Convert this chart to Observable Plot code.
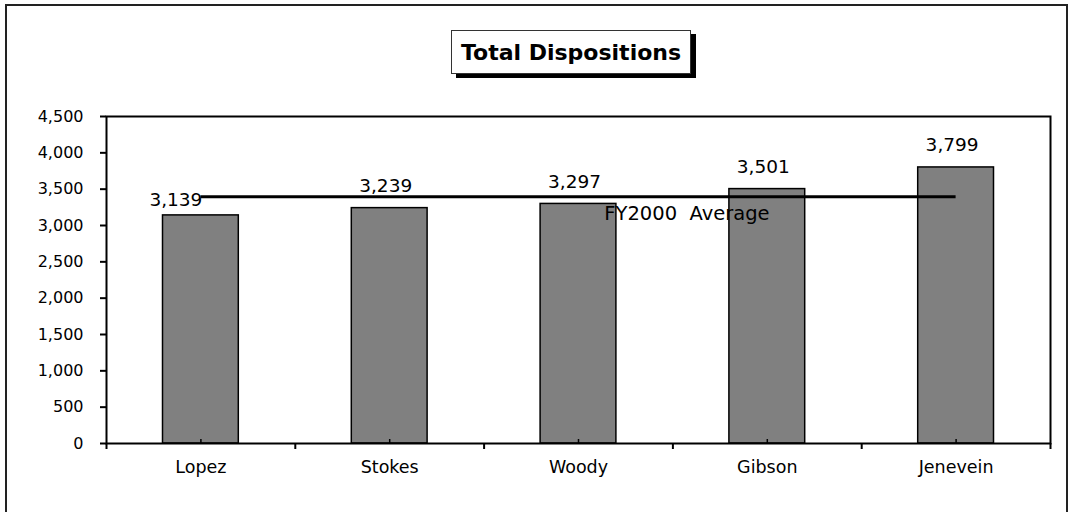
<!DOCTYPE html>
<html>
<head>
<meta charset="utf-8">
<script src="https://cdn.jsdelivr.net/npm/d3@7"></script>
<script src="https://cdn.jsdelivr.net/npm/@observablehq/plot@0.6"></script>
<style>
  body { margin: 0; background: #fff; }
  #wrap { position: relative; width: 1069px; height: 512px; overflow: hidden; background: #fff; }
  #border { position: absolute; left: 5px; top: 4px; width: 1063px; height: 520px; border: 2px solid #222; box-sizing: border-box; }
  #title { position: absolute; left: 451px; top: 30px; width: 240px; height: 44px; border: 1px solid #333; box-sizing: border-box;
           box-shadow: 5px 4px 0 #000; background: #fff; font-family: "DejaVu Sans", sans-serif; font-weight: bold; font-size: 22px;
           display: flex; align-items: center; justify-content: center; color: #000; }
  #chart { position: absolute; left: 0; top: 0; }
  #chart svg { white-space: pre; }
</style>
</head>
<body>
<div id="wrap">
  <div id="chart"></div>
  <div id="border"></div>
  <div id="title">Total Dispositions</div>
</div>
<script>
const names = ["Lopez", "Stokes", "Woody", "Gibson", "Jenevein"];
const values = [3139, 3239, 3297, 3501, 3799];
const average = 3395;
const averageLabel = "FY2000  Average";
const yTicks = [0, 500, 1000, 1500, 2000, 2500, 3000, 3500, 4000, 4500];

const data = names.map((name, i) => ({ name, value: values[i], i }));
const font = "DejaVu Sans, sans-serif";

const chart = Plot.plot({
  width: 1069,
  height: 512,
  marginLeft: 106,
  marginRight: 19,
  marginTop: 116,
  marginBottom: 69,
  style: { fontFamily: font, color: "#000", background: "transparent" },
  x: { domain: [0, names.length] },
  y: { domain: [0, 4500] },
  marks: [
    Plot.rectY(data, { x1: d => d.i, x2: d => d.i + 1, y: "value", insetLeft: 56.5, insetRight: 56.5,
                       fill: "#808080", stroke: "#000", strokeWidth: 1.5 }),
    Plot.axisY({ ticks: yTicks, tickSize: 6, tickPadding: 17, tickFormat: d3.format(","), fontSize: 16, strokeWidth: 2, label: null }),
    Plot.axisX({ ticks: d3.range(names.length + 1), tickSize: 6, tickFormat: () => "", strokeWidth: 2, label: null }),
    Plot.axisX({ ticks: data.map(d => d.i + 0.5), tickSize: -4, tickFormat: () => "", strokeWidth: 1.5, label: null }),
    Plot.text(data, { x: d => d.i + 0.5, frameAnchor: "bottom", text: "name", dy: 29, fontSize: 17.5 }),
    Plot.frame({ stroke: "#000", strokeWidth: 2 }),
    Plot.ruleY([average], { x1: 0.5, x2: names.length - 0.5, stroke: "#000", strokeWidth: 3 }),
    Plot.text([average], { x: 3, y: d => d, text: () => averageLabel, dy: 17, dx: 14, fontSize: 19.5 }),
    Plot.text(data.filter(d => d.i > 0), { x: d => d.i + 0.5, y: "value", text: d => d3.format(",")(d.value), dy: -22, dx: -4, fontSize: 18.5 }),
    Plot.text(data.filter(d => d.i === 0), { x: d => d.i + 0.5, y: "value", text: d => d3.format(",")(d.value), dy: -15, dx: -25, fontSize: 18.5 })
  ]
});
document.getElementById("chart").appendChild(chart);
</script>
</body>
</html>
